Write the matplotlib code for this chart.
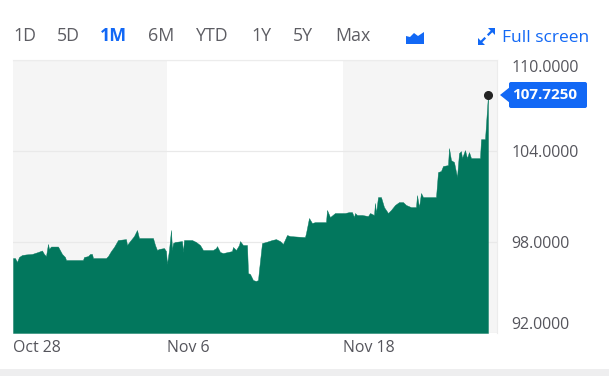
import matplotlib
matplotlib.use("Agg")
import matplotlib.pyplot as plt
from matplotlib.patches import Polygon, FancyBboxPatch

plt.rcParams['font.family'] = ['Open Sans', 'DejaVu Sans']

# one sample = 1/22 of a trading session
samples = [0, 2, 4, 6, 9, 13, 19, 25, 29, 31, 33, 35, 36, 38, 45, 49, 52, 53, 57, 70,
           71, 75, 77, 79, 80, 93, 95, 98, 101, 105, 113, 114, 117, 121, 124, 126, 140, 142, 144, 146,
           151, 153, 154, 156, 158, 159, 160, 162, 169, 170, 171, 179, 183, 187, 190, 200, 203, 204, 207, 210,
           219, 220, 223, 226, 227, 230, 234, 235, 237, 240, 243, 245, 246, 249, 253, 259, 263, 267, 270, 274,
           277, 290, 292, 293, 296, 299, 302, 313, 314, 317, 322, 332, 336, 339, 341, 342, 344, 349, 355, 357,
           361, 362, 363, 365, 368, 371, 375, 378, 382, 386, 390, 393, 398, 403, 404, 406, 408, 410, 423, 425,
           428, 430, 435, 436, 438, 441, 444, 446, 448, 449, 452, 454, 456, 458, 467, 468, 472, 475]
prices = [96.94, 96.94, 96.68, 97.01, 97.14, 97.18, 97.21, 97.34, 97.44, 97.21, 97.07, 97.87, 97.54, 97.70, 97.70, 97.21, 97.01, 96.81, 96.81, 96.81,
          97.01, 97.07, 97.21, 97.21, 96.94, 96.94, 97.07, 97.40, 97.67, 98.13, 98.19, 97.80, 98.06, 98.39, 98.79, 98.26, 98.26, 97.80, 97.47, 97.54,
          97.60, 97.40, 96.55, 97.47, 98.79, 97.47, 97.93, 98.00, 98.06, 97.34, 98.13, 98.13, 98.00, 97.80, 97.47, 97.47, 97.60, 97.73, 97.34, 97.27,
          97.40, 97.67, 97.47, 97.80, 98.06, 97.80, 97.80, 95.95, 95.89, 95.49, 95.43, 95.49, 96.15, 97.93, 98.00, 98.13, 98.19, 98.06, 97.87, 98.46,
          98.39, 98.33, 98.33, 98.59, 99.58, 99.25, 99.31, 99.31, 100.11, 99.64, 99.91, 99.91, 99.97, 99.97, 99.64, 99.91, 99.78, 99.78, 99.71, 99.91,
          99.78, 100.57, 99.91, 100.96, 100.96, 100.30, 99.91, 100.11, 100.44, 100.63, 100.63, 100.44, 100.30, 100.30, 101.09, 100.30, 101.23, 100.96, 100.96, 102.61,
          102.68, 103.01, 103.07, 104.19, 103.40, 103.27, 102.28, 103.86, 103.99, 103.53, 104.06, 103.53, 103.93, 103.53, 103.53, 104.78, 104.78, 107.725]

xtick_pos = [0, 154, 330]
xtick_labels = ["Oct 28", "Nov 6", "Nov 18"]
ytick_pos = [92, 98, 104, 110]
ytick_labels = ["92.0000", "98.0000", "104.0000", "110.0000"]
ranges = ["1D", "5D", "1M", "6M", "YTD", "1Y", "5Y", "Max"]
range_x = [13, 57, 100, 148, 196, 251, 293, 335]
last_price = 107.725

W, H = 609, 376
fig = plt.figure(figsize=(W / 100, H / 100), dpi=100)
ax = fig.add_axes([13 / W, 1 - 333 / H, 484 / W, 273 / H])
ax.set_xlim(0, 484)
ax.set_ylim(92, 110)

ax.axvspan(0, 154, color="#f5f5f5", lw=0, zorder=0)
ax.axvspan(330, 484, color="#f5f5f5", lw=0, zorder=0)
ax.grid(axis="y", color="#e9e9e9", lw=0.9, zorder=1)
ax.fill_between(samples, prices, 92, color="#02775d", lw=0.3, zorder=2)
ax.plot([samples[-1]], [last_price], "o", color="#232323", ms=5.5, zorder=3)

ax.set_xticks(xtick_pos, xtick_labels)
ax.yaxis.tick_right()
ax.set_yticks(ytick_pos, ytick_labels)
ax.tick_params(length=0, labelsize=11.4, labelcolor="#55555c")
ax.tick_params(axis="x", pad=5)
ax.tick_params(axis="y", pad=10.5)
for lab in ax.get_xticklabels():
    lab.set_ha("left")
ax.get_yticklabels()[0].set_va("bottom")
ax.get_yticklabels()[-1].set_va("top")
for side in ax.spines:
    ax.spines[side].set_visible(False)
ax.spines["top"].set_visible(True)
ax.spines["top"].set_color("#ececec")
ax.spines["right"].set_visible(True)
ax.spines["right"].set_color("#ececec")

# overlay in pixels for the toolbar and price tag
ov = fig.add_axes([0, 0, 1, 1], zorder=5)
ov.set_xlim(0, W)
ov.set_ylim(H, 0)
ov.axis("off")
ov.patch.set_alpha(0)

blue = "#1268f5"
for name, x in zip(ranges, range_x):
    active = name == "1M"
    ov.text(x, 36, name, fontsize=12.8, ha="left", va="center",
            color=blue if active else "#5d5d63", fontweight="bold" if active else "normal")
ov.text(502, 37.5, "Full screen", fontsize=12.5, ha="left", va="center", color=blue)

# area chart icon
ov.add_patch(Polygon([(406, 44), (406, 36), (410, 37), (414, 33), (418, 36), (424, 32), (424, 44)],
                     closed=True, color=blue, lw=0))
# expand arrows
ov.plot([480, 484.5], [43, 38.5], color=blue, lw=1.6)
ov.plot([488.5, 493], [34.5, 30], color=blue, lw=1.6)
ov.add_patch(Polygon([(478, 45), (478, 38), (485, 45)], closed=True, color=blue, lw=0))
ov.add_patch(Polygon([(495, 28), (488, 28), (495, 35)], closed=True, color=blue, lw=0))

# last price tag
ov.add_patch(FancyBboxPatch((509, 82), 78, 26, boxstyle="round,pad=0,rounding_size=2", color=blue, lw=0))
ov.add_patch(Polygon([(500, 95), (510, 87), (510, 103)], closed=True, color=blue, lw=0))
ov.text(512, 95, f"{last_price:.4f}", fontsize=11, fontweight="bold", color="white", ha="left", va="center")

# strip along the bottom edge
ov.add_patch(plt.Rectangle((0, 369), W, 7, color="#eeeeef", lw=0))

fig.savefig("out.png", dpi=100)
